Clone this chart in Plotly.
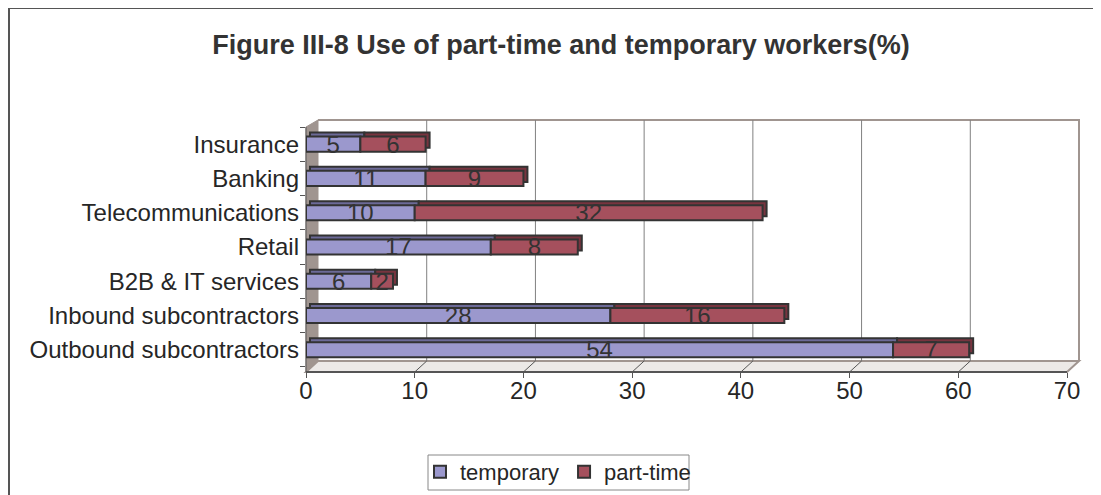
import plotly.graph_objects as go

# data
categories = ["Outbound subcontractors", "Inbound subcontractors", "B2B & IT services",
              "Retail", "Telecommunications", "Banking", "Insurance"]
temporary = [54, 28, 6, 17, 10, 11, 5]
part_time = [7, 16, 2, 8, 32, 9, 6]
x_ticks = [0, 10, 20, 30, 40, 50, 60, 70]

OFF = 8            # browser body margin
W, H = 1101 - OFF, 495 - OFF
L, R = 306 - OFF, 1067 - OFF   # plot area, pixels
T, B = 127 - OFF, 372 - OFF
DEPTH = 12         # fake 3d offset of the walls
BAR_D = 4          # fake 3d offset of the bars
BAR_W = 0.44
Y_RANGE = [-0.65, 6.5]
X_RANGE = [0, 70]


def px(x):
    return (x - L) / (R - L)


def py(y):
    return (B - y) / (B - T)


FONT = "Liberation Sans, Arial, sans-serif"
TEXT = "#262626"
SIZE = 24

# shift for the "depth" copy of the bars, in axis units
dx = BAR_D * (X_RANGE[1] - X_RANGE[0]) / (R - L)
dy = BAR_D * (Y_RANGE[1] - Y_RANGE[0]) / (B - T)

# stacking done by hand so the depth copies can sit behind (overlay mode)
series = [
    ("temporary", temporary, [0] * len(temporary), "#9B98CD", "#6C6A98"),
    ("part-time", part_time, temporary, "#A5505D", "#78343F"),
]

fig = go.Figure()
for name, vals, base, col, dark in series:
    fig.add_trace(go.Bar(
        y=categories, x=vals, base=[b + dx for b in base], name=name, orientation="h",
        marker=dict(color=dark, line=dict(color="#333333", width=2)),
        width=BAR_W, offset=-BAR_W / 2 + dy, showlegend=False, hoverinfo="skip",
    ))
for name, vals, base, col, dark in series:
    fig.add_trace(go.Bar(
        y=categories, x=vals, base=base, name=name, orientation="h",
        marker=dict(color=col, line=dict(color="#333333", width=2)),
        width=BAR_W, offset=-BAR_W / 2,
        text=vals, textposition="inside", insidetextanchor="middle", textangle=0,
        constraintext="none", textfont=dict(size=SIZE, color="#333333", family=FONT),
    ))

shapes = []
# outer chart border (left and top only visible)
shapes.append(dict(type="line", xref="paper", yref="paper", x0=px(1), x1=px(1),
                   y0=py(0), y1=py(H + 5), line=dict(color="#555555", width=2), layer="below"))
shapes.append(dict(type="line", xref="paper", yref="paper", x0=px(0), x1=px(W + 5),
                   y0=py(0), y1=py(0), line=dict(color="#555555", width=2), layer="below"))
# floor
shapes.append(dict(type="path", xref="paper", yref="paper", layer="below",
                   path=f"M {px(L)},{py(B)} L {px(R)},{py(B)} L {px(R + DEPTH)},{py(B - 11)} "
                        f"L {px(L + DEPTH)},{py(B - 11)} Z",
                   fillcolor="#ECE9E7", line=dict(color="#A09590", width=2)))
# left wall
shapes.append(dict(type="path", xref="paper", yref="paper", layer="below",
                   path=f"M {px(L)},{py(B)} L {px(L)},{py(T)} L {px(L + DEPTH)},{py(T - 7)} "
                        f"L {px(L + DEPTH)},{py(B - 11)} Z",
                   fillcolor="#A09590", line=dict(color="#A09590", width=1)))
# back wall outline
shapes.append(dict(type="path", xref="paper", yref="paper", layer="below",
                   path=f"M {px(L + DEPTH)},{py(T - 7)} L {px(R + DEPTH)},{py(T - 7)} "
                        f"L {px(R + DEPTH)},{py(B - 11)}",
                   line=dict(color="#A09590", width=2)))
# gridlines on the back wall and diagonal floor ticks
for t in x_ticks[1:-1]:
    shapes.append(dict(type="line", xref="x", yref="paper", xsizemode="pixel", xanchor=t,
                       x0=DEPTH, x1=DEPTH, y0=py(T - 7), y1=py(B - 11),
                       line=dict(color="#808080", width=1), layer="below"))
for t in x_ticks[1:]:
    shapes.append(dict(type="line", xref="x", yref="paper", xsizemode="pixel", xanchor=t,
                       x0=0, x1=DEPTH, y0=py(B), y1=py(B - 11),
                       line=dict(color="#555555", width=1), layer="below"))
# axis lines
shapes.append(dict(type="line", xref="paper", yref="paper", x0=0, x1=1, y0=0, y1=0,
                   line=dict(color="#555555", width=2), layer="below"))
shapes.append(dict(type="line", xref="paper", yref="paper", x0=0, x1=0, y0=0, y1=1,
                   line=dict(color="#555555", width=1), layer="below"))
# legend frame
shapes.append(dict(type="rect", xref="paper", yref="paper",
                   x0=px(428 - OFF), x1=px(689 - OFF), y0=py(455 - OFF), y1=py(490 - OFF),
                   line=dict(color="#888888", width=1), layer="below"))

fig.update_layout(
    width=W, height=H,
    margin=dict(l=L, r=W - R, t=T, b=H - B, autoexpand=False),
    paper_bgcolor="white", plot_bgcolor="rgba(0,0,0,0)",
    barmode="overlay",
    font=dict(family=FONT, color=TEXT, size=SIZE),
    title=dict(text="<b>Figure III-8 Use of part-time and temporary workers(%)</b>",
               x=(561 - OFF) / W, xanchor="center", y=1 - (45 - OFF) / H, yanchor="middle",
               font=dict(size=27, color="#333333")),
    xaxis=dict(range=X_RANGE, tickvals=x_ticks, showgrid=False, zeroline=False,
               showline=False, ticks="outside", ticklen=5, tickcolor="#555555",
               tickfont=dict(size=SIZE, color=TEXT), ticklabelstandoff=-8, automargin=False),
    yaxis=dict(categoryorder="array", categoryarray=categories, range=Y_RANGE,
               showgrid=False, zeroline=False, showline=False, ticks="outside",
               tickson="boundaries", ticklen=5, tickcolor="#555555",
               tickfont=dict(size=SIZE, color=TEXT), ticklabelstandoff=6, automargin=False),
    legend=dict(orientation="h", xref="container", yref="container",
                x=(558 - OFF) / W, xanchor="center", y=1 - (472 - OFF) / H, yanchor="middle",
                borderwidth=0, bgcolor="rgba(0,0,0,0)",
                font=dict(size=22, color=TEXT), itemwidth=30, traceorder="normal",
                tracegroupgap=0),
    shapes=shapes,
    showlegend=True,
)

fig.write_html("out.html")
